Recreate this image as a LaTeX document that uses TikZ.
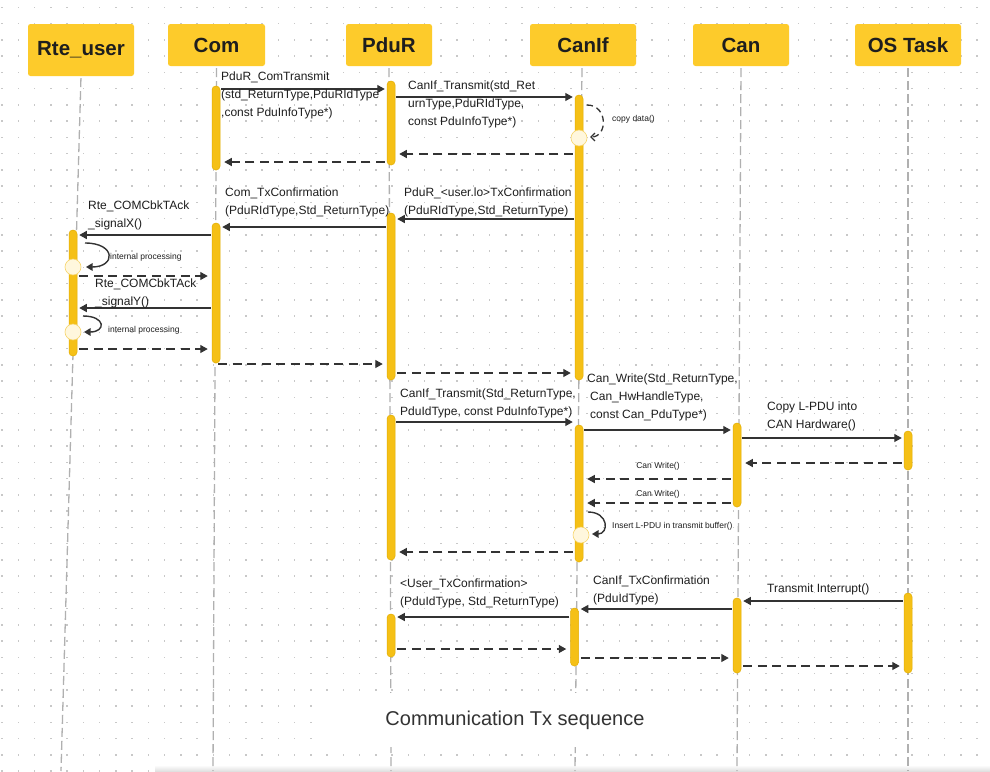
\documentclass[tikz,border=0pt]{standalone}
\usepackage{fontspec}
\setmainfont{Liberation Sans}
\usetikzlibrary{arrows.meta}
\definecolor{hdr}{HTML}{FDCB2B}
\definecolor{barY}{HTML}{F5C016}
\definecolor{barD}{HTML}{E2AE05}
\definecolor{txt}{HTML}{1E1E1E}
\definecolor{ln}{HTML}{333333}
\definecolor{life}{HTML}{B0B0B0}
\definecolor{dotc}{HTML}{C8C8C8}
\definecolor{circF}{HTML}{FFF7DD}
\definecolor{circD}{HTML}{F7D56B}
\newcommand\actbarnode[4]{\node[actbar, minimum height={(#4)-(#3)}] (#1) at (#2,{((#3)+(#4))/2}) {};}
\newcommand\seqmsg[4][msg]{\draw[#1] (#2 |- 0,#4) -- (#3 |- 0,#4);}
\begin{document}
\begin{tikzpicture}[x=1pt,y=-1pt,
 hdrbox/.style={fill=hdr, rounded corners=2.5pt, inner sep=0, font=\fontsize{20.5}{24}\selectfont\bfseries, text=txt},
 lifeline/.style={draw=life, line width=1.3pt, dash pattern=on 9pt off 4pt},
 actbar/.style={rectangle, rounded corners=3.8pt, minimum width=8pt, inner sep=0, fill=barY, draw=barD, line width=0.5pt},
 msg/.style={draw=ln, line width=1.3pt, -{Triangle[length=7.5pt,width=8pt]}, shorten <=1pt, shorten >=2pt},
 ret/.style={msg, dash pattern=on 9pt off 5.5pt, shorten <=2pt, shorten >=4pt},
 lbl/.style={anchor=north west, inner sep=0, align=left, text=txt, font=\fontsize{12}{18}\selectfont},
 small/.style={inner sep=0, text=txt, font=\fontsize{8.5}{10}\selectfont},
 selfcall/.style={draw=ln, line width=1.4pt, -{Triangle[length=6.5pt,width=7.5pt]}},
 endcirc/.style={circle, minimum size=16pt, inner sep=0, fill=circF, draw=circD, line width=0.6pt}
]
\useasboundingbox (0,0) rectangle (990,771);
\fill[white] (0,0) rectangle (990,771);
% dot grid
\foreach \i in {0,...,60}{
  \foreach \j in {0,...,47}{
    \fill[dotc] ({2+16.25*\i-0.75},{7.25+16.25*\j-0.75}) rectangle +(1.5,1.5);
  }
}
% bottom panel shadow
\shade[top color=white, bottom color=black!12] (155,765) rectangle (990,771);

% headers
\node[hdrbox, minimum width=106pt, minimum height=52pt] (hRte) at (81,50) {Rte\_user};
\node[hdrbox, minimum width=97pt, minimum height=42pt] (hCom) at (216.5,45) {Com};
\node[hdrbox, minimum width=86pt, minimum height=42pt] (hPduR) at (389,45) {PduR};
\node[hdrbox, minimum width=106pt, minimum height=42pt] (hCanIf) at (583,45) {CanIf};
\node[hdrbox, minimum width=96pt, minimum height=42pt] (hCan) at (741,45) {Can};
\node[hdrbox, minimum width=106pt, minimum height=42pt] (hOS) at (908,45) {OS Task};

% lifeline ends
\coordinate (eRte) at (61,771);
\coordinate (eCom) at (213,771);
\coordinate (ePduR) at (391,771);
\coordinate (eCanIf) at (575,771);
\coordinate (eCan) at (737,771);
\coordinate (eOS) at (908,771);
\draw[lifeline, shorten <=2pt] (hRte.south) -- (eRte);
\draw[lifeline, shorten <=2pt] (hCom.south) -- (eCom);
\draw[lifeline, shorten <=2pt] (hPduR.south) -- (ePduR);
\draw[lifeline, shorten <=2pt] (hCanIf.south -| 582,0) -- (eCanIf);
\draw[lifeline, shorten <=2pt] (hCan.south) -- (eCan);
\draw[lifeline, shorten <=2pt] (hOS.south) -- (eOS);

% title
\node[fill=white, minimum width=406pt, minimum height=54pt, inner sep=0, text=ln,
      font=\fontsize{20}{24}\selectfont] (title) at (515,720) {Communication Tx sequence};

% activation bars
\actbarnode{comA}{216}{86}{170}
\actbarnode{pdurA}{391}{81}{165}
\actbarnode{canifA}{579}{95}{380}
\actbarnode{pdurB}{391}{213}{380}
\actbarnode{comB}{216}{223}{363}
\actbarnode{rteA}{73}{230}{356}
\actbarnode{pdurC}{391}{415}{560}
\actbarnode{canifB}{579}{425}{562}
\actbarnode{canA}{737}{423}{507}
\actbarnode{osA}{908}{431}{470}
\actbarnode{osB}{908}{593}{673}
\actbarnode{canB}{737}{598}{673}
\actbarnode{canifC}{574.5}{608}{666}
\actbarnode{pdurD}{391}{614}{657}

% end-of-processing circles
\node[endcirc] (c1) at (579,138) {};
\node[endcirc] (c2) at (73,267) {};
\node[endcirc] (c3) at (73,332) {};
\node[endcirc] (c4) at (581,535) {};

% messages
\seqmsg{comA.east}{pdurA.west}{89}
\seqmsg{pdurA.east}{canifA.west}{97}
\seqmsg[ret]{canifA.west}{pdurA.east}{154}
\seqmsg[ret]{pdurA.west}{comA.east}{162}
\seqmsg{canifA.west}{pdurB.east}{219}
\seqmsg{pdurB.west}{comB.east}{227}
\seqmsg{comB.west}{rteA.east}{235}
\seqmsg[ret]{rteA.east}{comB.west}{276}
\seqmsg{comB.west}{rteA.east}{308}
\seqmsg[ret]{rteA.east}{comB.west}{349}
\seqmsg[ret]{comB.south}{pdurB.west}{364}
\seqmsg[ret]{pdurB.east}{canifA.west}{373}
\seqmsg{pdurC.east}{canifB.west}{422}
\seqmsg{canifB.east}{canA.west}{430}
\seqmsg{canA.east}{osA.west}{438}
\seqmsg[ret]{osA.west}{canA.east}{463}
\seqmsg[ret]{canA.west}{canifB.east}{479}
\seqmsg[ret]{canA.west}{canifB.east}{503}
\seqmsg[ret]{canifB.west}{pdurC.east}{552}
\seqmsg{osB.west}{canB.east}{601}
\seqmsg{canB.west}{canifC.east}{609}
\seqmsg{canifC.west}{pdurD.east}{617}
\seqmsg[ret]{pdurD.east}{canifC.west}{649}
\seqmsg[ret]{canifC.east}{canB.west}{658}
\seqmsg[ret]{canB.east}{osB.west}{666}

% self calls
\coordinate (cdA) at (587,105); \coordinate (cdB) at (590,137);
\draw[draw=ln, line width=1.3pt, dash pattern=on 6pt off 4pt, -{Straight Barb[length=4pt,width=8pt]}]
  (cdA) .. controls (608,105) and (608,137) .. (cdB);
\coordinate (ipA) at (85,243); \coordinate (ipB) at (86,267);
\draw[selfcall] (ipA) .. controls (116,243) and (116,267) .. (ipB);
\coordinate (iqA) at (83,316); \coordinate (iqB) at (84,332);
\draw[selfcall] (iqA) .. controls (106,316) and (106,332) .. (iqB);
\coordinate (isA) at (588,512); \coordinate (isB) at (592,534);
\draw[selfcall] (isA) .. controls (609,512) and (609,534) .. (isB);

% small labels
\node[small, anchor=west] (tcd) at (612,119) {copy data()};
\node[small, anchor=west] (tip1) at (110,257) {internal processing};
\node[small, anchor=west] (tip2) at (108,330) {internal processing};
\node[small] (tcw1) at (658,466) {Can Write()};
\node[small] (tcw2) at (658,494) {Can Write()};
\node[small, anchor=west] (tins) at (612,526) {Insert L-PDU in transmit buffer()};

% message labels
\node[lbl] (L1) at (221,72) {PduR\_ComTransmit\\(std\_ReturnType,PduRIdType\\,const PduInfoType*)};
\node[lbl] (L2) at (408,81) {CanIf\_Transmit(std\_Ret\\urnType,PduRIdType,\\const PduInfoType*)};
\node[lbl] (L3) at (404,188) {PduR\_<user.lo>TxConfirmation\\(PduRIdType,Std\_ReturnType)};
\node[lbl] (L4) at (225,188) {Com\_TxConfirmation\\(PduRIdType,Std\_ReturnType)};
\node[lbl] (L5) at (88,201) {Rte\_COMCbkTAck\\\_signalX()};
\node[lbl] (L6) at (95,279) {Rte\_COMCbkTAck\\\_signalY()};
\node[lbl] (L7) at (400,389) {CanIf\_Transmit(Std\_ReturnType,\\PduIdType, const PduInfoType*)};
\node[lbl] (L8) at (587,374) {Can\_Write(Std\_ReturnType,\\\hspace*{3pt}Can\_HwHandleType,\\\hspace*{3pt}const Can\_PduType*)};
\node[lbl] (L9) at (767,402) {Copy L-PDU into\\CAN Hardware()};
\node[lbl] (L10) at (767,584) {Transmit Interrupt()};
\node[lbl] (L11) at (593,576) {CanIf\_TxConfirmation\\(PduIdType)};
\node[lbl] (L12) at (400,579) {<User\_TxConfirmation>\\(PduIdType, Std\_ReturnType)};
\end{tikzpicture}
\end{document}
